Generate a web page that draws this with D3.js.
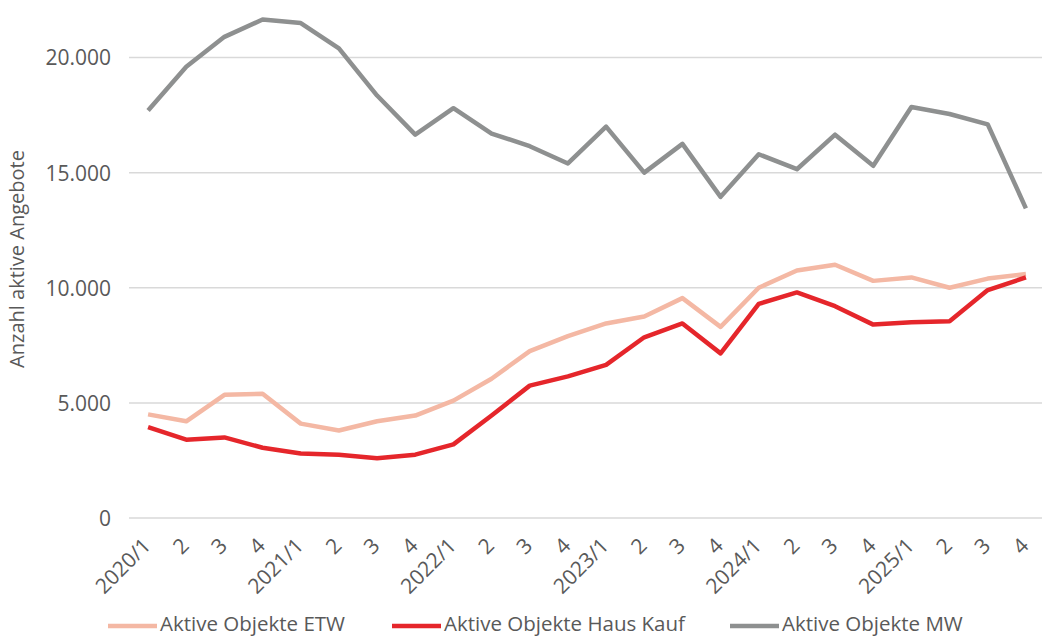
<!DOCTYPE html>
<html>
<head>
<meta charset="utf-8">
<script src="https://cdn.jsdelivr.net/npm/d3@7"></script>
<style>
  body { margin: 0; background: #fff; }
  text { font-family: "Open Sans", "Noto Sans", sans-serif; fill: #595959; }
</style>
</head>
<body>
<div id="chart"></div>
<script>
// quarters 2020/1 .. 2025/4
const categories = [
  "2020/1", "2", "3", "4",
  "2021/1", "2", "3", "4",
  "2022/1", "2", "3", "4",
  "2023/1", "2", "3", "4",
  "2024/1", "2", "3", "4",
  "2025/1", "2", "3", "4"
];

const etw = [4500, 4200, 5350, 5400, 4100, 3800, 4200, 4450, 5100, 6050, 7250, 7900,
             8450, 8750, 9550, 8300, 10000, 10750, 11000, 10300, 10450, 10000, 10400, 10600];
const hausKauf = [3950, 3400, 3500, 3050, 2800, 2750, 2600, 2750, 3200, 4450, 5750, 6150,
                  6650, 7850, 8450, 7150, 9300, 9800, 9200, 8400, 8500, 8550, 9900, 10450];
const mw = [17700, 19600, 20900, 21650, 21500, 20400, 18350, 16650, 17800, 16700, 16150, 15400,
            17000, 15000, 16250, 13950, 15800, 15150, 16650, 15300, 17850, 17550, 17100, 13450];

const yTicks = [0, 5000, 10000, 15000, 20000];

const seriesNames = ["Aktive Objekte ETW", "Aktive Objekte Haus Kauf", "Aktive Objekte MW"];
const seriesColors = ["#f4b8a4", "#e5262b", "#8e9090"];

const width = 1042, height = 637;
const plotLeft = 129, plotRight = 1045, plotBottom = 518, plotTop = 0;

const svg = d3.select("#chart").append("svg")
  .attr("width", width)
  .attr("height", height);

const x = d3.scaleBand()
  .domain(d3.range(categories.length))
  .range([plotLeft, plotRight]);

const y = d3.scaleLinear()
  .domain([0, 22500])
  .range([plotBottom, plotTop]);

const fmt = d3.formatLocale({ decimal: ",", thousands: ".", grouping: [3], currency: ["", "€"] }).format(",.0f");

// gridlines
svg.append("g")
  .selectAll("line")
  .data(yTicks)
  .enter()
  .append("line")
  .attr("x1", plotLeft)
  .attr("x2", plotRight)
  .attr("y1", d => y(d))
  .attr("y2", d => y(d))
  .attr("stroke", "#d9d9d9")
  .attr("stroke-width", 1.5);

// y axis labels
const yAxis = svg.append("g")
  .attr("transform", `translate(${plotLeft - 18},0)`)
  .call(d3.axisLeft(y).tickValues(yTicks).tickFormat(fmt).tickSize(0).tickPadding(0));
yAxis.select(".domain").remove();
yAxis.selectAll("text")
  .style("font-size", "21px")
  .attr("fill", "#595959")
  .attr("dy", "0.35em");

// y axis title
svg.append("text")
  .attr("transform", `translate(24,259) rotate(-90)`)
  .attr("text-anchor", "middle")
  .style("font-size", "20px")
  .text("Anzahl aktive Angebote");

// x axis labels (rotated)
svg.append("g")
  .selectAll("text")
  .data(categories)
  .enter()
  .append("text")
  .attr("transform", (d, i) => `translate(${x(i) + x.bandwidth() / 2 + 4},547) rotate(-45)`)
  .attr("text-anchor", "end")
  .style("font-size", "21px")
  .text(d => d);

// lines
const line = d3.line()
  .x((d, i) => x(i) + x.bandwidth() / 2)
  .y(d => y(d));

[etw, hausKauf, mw].forEach((data, k) => {
  svg.append("path")
    .datum(data)
    .attr("d", line)
    .attr("fill", "none")
    .attr("stroke", seriesColors[k])
    .attr("stroke-width", 4.5)
    .attr("stroke-linejoin", "round");
});

// legend
const legendX = [108, 392, 730];
const legend = svg.append("g");
seriesNames.forEach((name, k) => {
  legend.append("line")
    .attr("x1", legendX[k])
    .attr("x2", legendX[k] + 49)
    .attr("y1", 626)
    .attr("y2", 626)
    .attr("stroke", seriesColors[k])
    .attr("stroke-width", 4.5);
  legend.append("text")
    .attr("x", legendX[k] + 52)
    .attr("y", 631)
    .style("font-size", "20.5px")
    .text(name);
});
</script>
</body>
</html>
